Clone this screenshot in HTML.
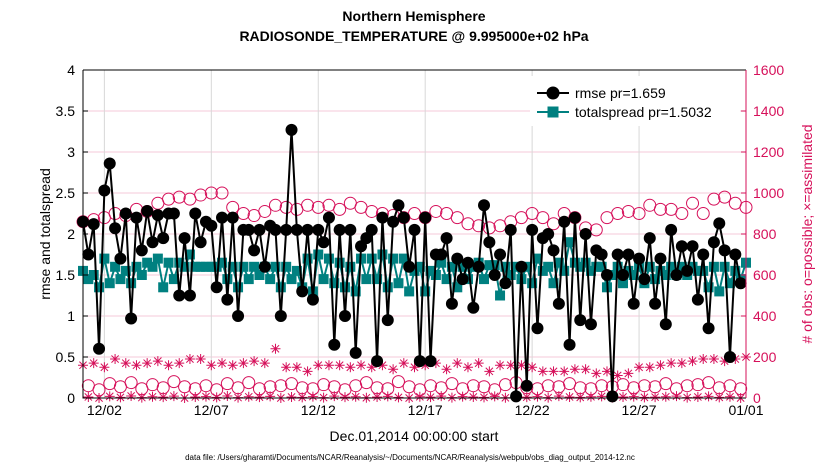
<!DOCTYPE html>
<html><head><meta charset="utf-8">
<style>
body{margin:0;background:#fff;}
svg{display:block;font-family:"Liberation Sans",sans-serif;}
</style></head>
<body>
<svg id="chart" width="830" height="470">
<g id="grid"></g>
<g id="marks"></g>
<g id="axes"></g>
<text x="414" y="21" text-anchor="middle" font-size="14" font-weight="bold">Northern Hemisphere</text>
<text x="414" y="41" text-anchor="middle" font-size="14" font-weight="bold">RADIOSONDE_TEMPERATURE @ 9.995000e+02 hPa</text>
<text transform="translate(50,234) rotate(-90)" text-anchor="middle" font-size="14">rmse and totalspread</text>
<text transform="translate(812,234) rotate(-90)" text-anchor="middle" font-size="14" fill="#d6105a"># of obs: o=possible; ×=assimilated</text>
<text x="414" y="441" text-anchor="middle" font-size="14">Dec.01,2014 00:00:00 start</text>
<text x="410" y="460" text-anchor="middle" font-size="8">data file: /Users/gharamti/Documents/NCAR/Reanalysis/~/Documents/NCAR/Reanalysis/webpub/obs_diag_output_2014-12.nc</text>
<g>
<rect x="530" y="76" width="210" height="50" fill="#fff"/>
<g>
<line x1="537" y1="93" x2="569" y2="93" stroke="#000" stroke-width="2"/>
<circle cx="553" cy="93" r="6.5" fill="#000"/>
<text x="575" y="98" font-size="14">rmse pr=1.659</text></g>
<g>
<line x1="537" y1="112" x2="569" y2="112" stroke="#008080" stroke-width="2"/>
<rect x="547.5" y="106.5" width="11" height="11" fill="#008080"/>
<text x="575" y="117" font-size="14">totalspread pr=1.5032</text></g>
</g>
</svg>
<script>
const rmse=[2.15,1.75,2.12,0.6,2.53,2.86,2.07,1.7,2.25,0.97,2.2,1.8,2.28,1.9,2.23,1.95,2.25,2.25,1.25,1.95,1.25,2.25,1.9,2.15,2.1,1.35,2.2,1.2,2.2,1.0,
2.05,2.05,1.8,2.05,1.6,2.1,2.05,1.0,2.05,3.27,2.05,1.3,2.05,1.2,2.05,1.9,2.2,0.65,2.05,1.0,2.05,0.55,1.85,1.95,2.05,0.45,2.2,0.95,2.15,2.35,2.2,1.6,2.05,
0.45,2.2,0.45,1.75,1.75,1.95,1.15,1.7,1.45,1.65,1.1,1.6,2.35,1.9,1.5,1.75,1.4,2.05,0.02,1.6,0.15,2.05,0.85,1.95,2.0,1.8,1.15,2.15,0.65,2.2,0.95,2.0,
0.9,1.8,1.75,1.5,0.02,1.75,1.5,1.75,1.15,1.7,1.45,1.95,1.15,1.7,0.9,2.05,1.5,1.85,1.55,1.85,1.2,1.75,0.85,1.9,2.13,1.8,0.5,1.75,1.4];
const spread=[1.55,1.45,1.5,1.35,1.7,1.4,1.6,1.45,1.55,1.4,1.6,1.5,1.65,1.6,1.7,1.35,1.65,1.45,1.65,1.6,1.75,1.6,1.6,1.6,1.6,1.6,1.65,1.45,1.6,1.35,
1.6,1.45,1.6,1.5,1.6,1.45,1.6,1.35,1.6,1.45,1.55,1.35,1.7,1.3,1.75,1.45,1.7,1.4,1.65,1.35,1.6,1.3,1.7,1.45,1.7,1.45,1.75,1.35,1.7,1.4,1.7,1.3,1.55,
1.6,1.3,1.55,1.5,1.65,1.45,1.6,1.35,1.6,1.45,1.6,1.65,1.45,1.62,1.62,1.25,1.6,1.5,1.6,1.45,1.6,1.4,1.7,1.55,1.6,1.4,1.65,1.55,1.9,1.65,1.6,1.65,
1.55,1.6,1.6,1.35,1.5,1.6,1.4,1.55,1.5,1.6,1.4,1.6,1.45,1.55,1.5,1.6,1.5,1.6,1.5,1.6,1.55,1.55,1.35,1.6,1.3,1.6,1.4,1.55,1.45,1.65];
const possible00=[860,870,880,900,890,920,910,950,970,980,970,990,1000,1000,930,900,890,910,940,930,920,940,930,940,920,950,930,910,900,890,880,900,880,910,900,880,850,840,830,840,860,880,900,880,850,900,880,830,820,880,900,910,900,940,920,920,900,950,900,970,980,950,930];
const possible06=[60,40,70,55,75,45,65,50,80,55,45,60,40,70,50,75,45,55,60,70,50,45,65,55,40,60,75,50,45,80,55,40,60,50,70,45,60,55,40,65,75,50,45,60,55,70,50,45,60,55,65,50,60,55,70,45,60,65,75,50,60,45];
const assim00=[160,170,150,190,170,160,170,180,160,170,190,190,160,170,160,170,180,170,240,150,150,130,160,160,160,150,160,150,160,140,170,150,160,170,140,170,150,170,130,160,160,160,150,130,130,130,140,140,120,130,110,120,150,150,160,170,170,180,190,190,180,190,200];
const assim06=[5,0,8,3,10,2,6,4,9,0,5,7,3,10,2,6,4,8,0,5,3,7,2,9,4,6,1,5,8,3,0,6,4,9,2,7,5,3,8,1,6,4,7,2,9,5,3,6,8,2,5,7,3,4,6,9,2,5,8,3,6,0];
const xTicks=["12/02","12/07","12/12","12/17","12/22","12/27","01/01"];
const xTickDays=[1,6,11,16,21,26,31];
const yTicks=[0,0.5,1,1.5,2,2.5,3,3.5,4];
const y2Ticks=[0,200,400,600,800,1000,1200,1400,1600];

const L=83,R=746,T=70,B=398,NS="http://www.w3.org/2000/svg";
const PINK="#d6105a",TEAL="#008080";
const X=d=>L+(d/31)*(R-L);
const Y=v=>B-(v/4)*(B-T);
const Y2=v=>B-(v/1600)*(B-T);
function mk(tag,attrs,parent){const e=document.createElementNS(NS,tag);for(const k in attrs)e.setAttribute(k,attrs[k]);parent.appendChild(e);return e;}
const grid=document.getElementById('grid'),marks=document.getElementById('marks'),axes=document.getElementById('axes');

yTicks.forEach((v,i)=>{
  if(i>0&&i<yTicks.length-1){const g=mk('line',{x1:L,x2:R,y1:Y(v),y2:Y(v),stroke:'#f5c9d8','stroke-width':1},grid);
  
  }
  const t=mk('text',{x:L-8,y:Y(v)+5,'text-anchor':'end','font-size':14},axes);t.textContent=String(v);
  
  
  mk('line',{x1:L,x2:L+5,y1:Y(v),y2:Y(v),stroke:'#000'},axes);
});
y2Ticks.forEach(v=>{
  const t=mk('text',{x:R+7,y:Y2(v)+5,'font-size':14,fill:PINK},axes);t.textContent=String(v);
  
  
  mk('line',{x1:R-5,x2:R,y1:Y2(v),y2:Y2(v),stroke:PINK},axes);
});
xTicks.forEach((s,i)=>{
  const x=X(xTickDays[i]);
  const g=mk('line',{x1:x,x2:x,y1:T,y2:B,stroke:'#d8d8d8'},grid);
  
  
  const t=mk('text',{x:x,y:B+17,'text-anchor':'middle','font-size':14},axes);t.textContent=s;
  
  
});
const frame=mk('path',{d:`M${L},${T}H${R}M${L},${T}V${B}H${R}`,stroke:'#000',fill:'none','stroke-width':1},axes);


const rax=mk('line',{x1:R,x2:R,y1:T,y2:B,stroke:PINK,'stroke-width':1},axes);



function star(x,y,g){const r=5;mk('path',{d:`M${x-r},${y}H${x+r}M${x},${y-r}V${y+r}M${x-3.6},${y-3.6}L${x+3.6},${y+3.6}M${x-3.6},${y+3.6}L${x+3.6},${y-3.6}`,stroke:PINK,'stroke-width':1},g);}
const gP=mk('g',{},marks);
possible00.forEach((v,i)=>{const c=mk('circle',{cx:X(i*0.5),cy:Y2(v),r:6,fill:'none',stroke:PINK},gP);
  
  });
possible06.forEach((v,i)=>{const c=mk('circle',{cx:X(i*0.5+0.25),cy:Y2(v),r:6,fill:'none',stroke:PINK},gP);
  
  });
const gA=mk('g',{},marks);
assim00.forEach((v,i)=>star(X(i*0.5),Y2(v),gA));
assim06.forEach((v,i)=>star(X(i*0.5+0.25),Y2(v),gA));

const gS=mk('g',{},marks);
mk('polyline',{points:spread.map((v,i)=>X(i*0.25)+','+Y(v)).join(' '),fill:'none',stroke:TEAL,'stroke-width':2},gS);
spread.forEach((v,i)=>{const r=mk('rect',{x:X(i*0.25)-5,y:Y(v)-5,width:10,height:10,fill:TEAL},gS);
  
  });

const gR=mk('g',{},marks);
mk('polyline',{points:rmse.map((v,i)=>X(i*0.25)+','+Y(v)).join(' '),fill:'none',stroke:'#000','stroke-width':2},gR);
rmse.forEach((v,i)=>{const c=mk('circle',{cx:X(i*0.25),cy:Y(v),r:6,fill:'#000'},gR);
  
  });
</script>
</body></html>
